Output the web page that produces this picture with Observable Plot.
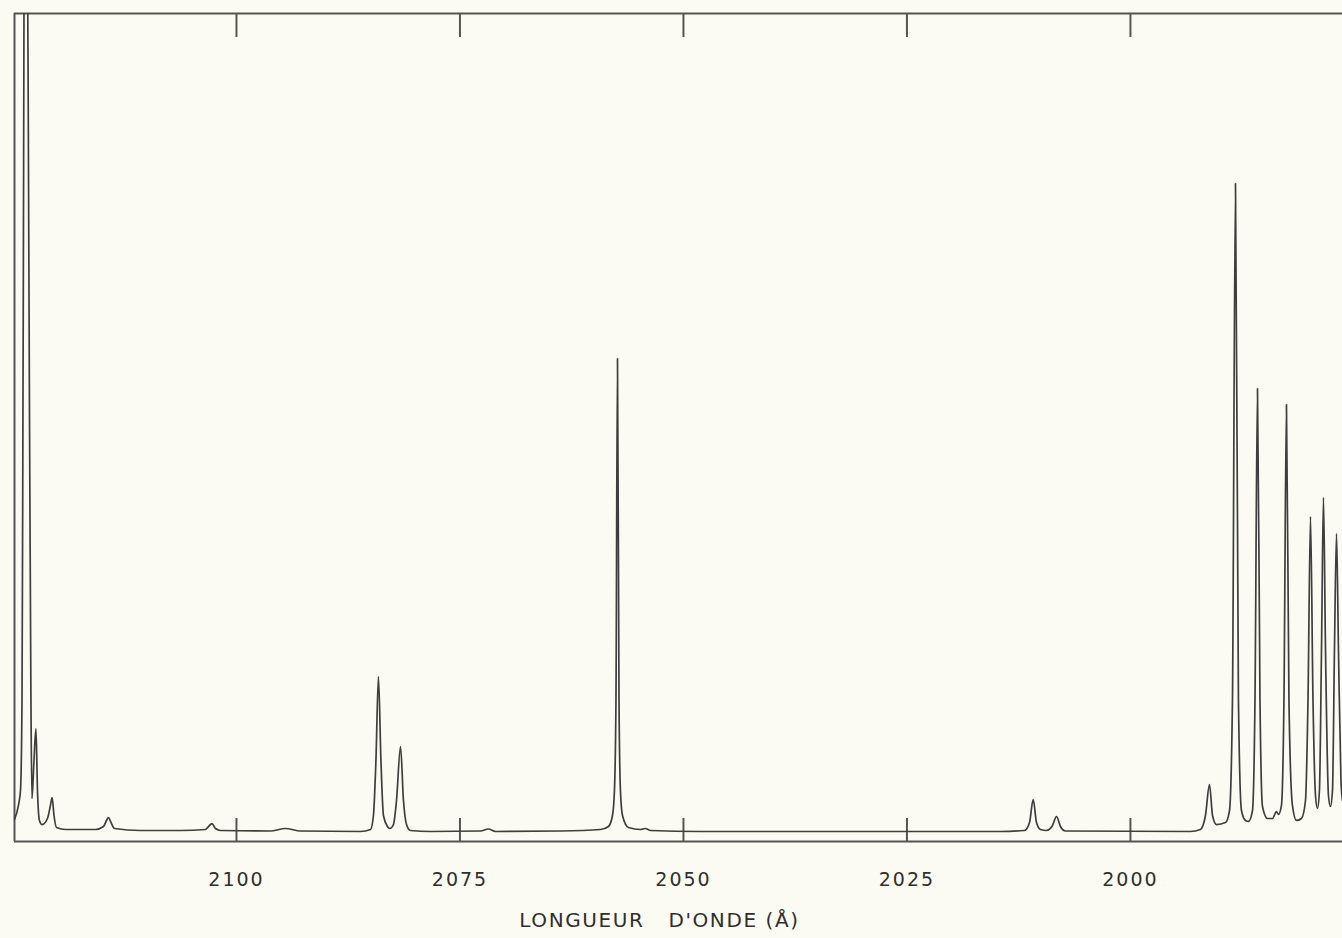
<!DOCTYPE html>
<html>
<head>
<meta charset="utf-8">
<script src="https://cdn.jsdelivr.net/npm/d3@7"></script>
<script src="https://cdn.jsdelivr.net/npm/@observablehq/plot@0.6"></script>
<style>
  html, body { margin: 0; padding: 0; background: #fbfbf3; }
  #chart { width: 1342px; height: 938px; overflow: hidden; }
</style>
</head>
<body>
<div id="chart"></div>
<script>
// Wavelength (Å), decreasing left to right
const wavelength = [
  2124.83, 2124.39, 2124.16, 2123.99, 2123.88, 2123.60, 2123.16, 2122.99, 2122.88, 2122.65,
  2122.43, 2122.26, 2122.04, 2121.76, 2121.14, 2120.81, 2120.62, 2120.41, 2120.13, 2119.13,
  2115.77, 2114.88, 2114.54, 2114.32, 2114.09, 2113.65, 2110.74, 2106.26, 2103.47, 2103.13,
  2102.74, 2102.35, 2101.79, 2096.20, 2094.52, 2092.84, 2086.13, 2085.01, 2084.68, 2084.40,
  2084.12, 2083.84, 2083.56, 2083.11, 2082.83, 2082.44, 2082.10, 2081.65, 2081.32, 2080.98,
  2080.54, 2078.30, 2072.71, 2071.81, 2071.03, 2063.76, 2059.28, 2058.39, 2057.94, 2057.72,
  2057.55, 2057.38, 2057.21, 2057.05, 2056.82, 2056.15, 2054.81, 2054.25, 2053.69, 2048.10,
  2014.54, 2011.85, 2011.29, 2010.88, 2010.51, 2010.06, 2009.39, 2008.72, 2008.27, 2007.83,
  2007.27, 1993.29, 1992.17, 1991.61, 1991.16, 1990.82, 1990.38, 1989.37, 1988.92, 1988.59,
  1988.25, 1987.92, 1987.58, 1987.13, 1986.80, 1986.35, 1986.07, 1985.79, 1985.51, 1985.23,
  1984.67, 1984.11, 1983.67, 1983.44, 1983.11, 1982.83, 1982.55, 1982.27, 1981.88, 1981.43,
  1980.87, 1980.42, 1980.14, 1979.86, 1979.58, 1979.30, 1979.08, 1978.86, 1978.63, 1978.41,
  1978.18, 1977.85, 1977.63, 1977.40, 1977.18, 1976.95, 1976.73, 1976.45, 1976.28
];
// Relative intensity (0–100 = frame height; first line is off-scale)
const intensity = [
  2.66, 4.35, 6.16, 17.03, 53.26, 150, 53.26, 17.03, 5.19, 9.78,
  13.65, 6.16, 2.54, 2.05, 2.78, 4.35, 5.31, 3.14, 1.69, 1.45,
  1.45, 1.81, 2.54, 2.90, 2.42, 1.57, 1.33, 1.33, 1.45, 1.81,
  2.17, 1.57, 1.33, 1.27, 1.57, 1.27, 1.21, 1.45, 3.14, 9.78,
  19.93, 9.78, 3.14, 1.81, 1.57, 2.05, 4.95, 11.47, 4.95, 2.05,
  1.33, 1.21, 1.27, 1.51, 1.21, 1.27, 1.45, 1.81, 3.14, 6.16,
  17.03, 58.33, 17.03, 6.16, 3.14, 1.69, 1.45, 1.57, 1.33, 1.21,
  1.21, 1.33, 2.29, 5.07, 2.29, 1.45, 1.33, 1.93, 3.02, 1.81,
  1.27, 1.21, 1.45, 3.14, 6.88, 3.14, 2.05, 2.29, 3.74, 17.03,
  79.47, 17.03, 3.74, 2.54, 2.42, 3.74, 17.03, 54.71, 17.03, 4.23,
  2.78, 2.78, 3.62, 3.26, 4.35, 17.03, 52.78, 17.03, 4.35, 2.54,
  2.78, 4.95, 17.03, 39.25, 17.03, 5.56, 3.99, 6.16, 23.07, 41.55,
  23.07, 5.56, 4.23, 6.16, 23.07, 37.20, 23.07, 7.37, 4.95
];
const xTicks = [2100, 2075, 2050, 2025, 2000];
const xLabel = "LONGUEUR\u00a0\u00a0\u00a0D'ONDE\u00a0(Å)";

const spectrum = wavelength.map((w, i) => ({w, v: intensity[i]}));
const ink = "#2f2f2f";
const lineInk = "#3e3e3e";
const frameInk = "#555555";

const plot = Plot.plot({
  width: 1342,
  height: 938,
  marginLeft: 14,
  marginRight: 0,
  marginTop: 13,
  marginBottom: 97,
  style: {background: "transparent", fontFamily: "'DejaVu Sans', sans-serif", color: ink, overflow: "visible"},
  x: {domain: [d3.max(wavelength), d3.min(wavelength)], axis: null},
  y: {domain: [0, 100], axis: null},
  marks: [
    // frame (left, top, bottom; right edge lies beyond the picture)
    Plot.ruleY([0, 100], {stroke: frameInk, strokeWidth: 2}),
    Plot.ruleX([d3.max(wavelength)], {stroke: frameInk, strokeWidth: 2}),
    // inward ticks, top and bottom
    Plot.ruleX(xTicks, {stroke: frameInk, strokeWidth: 2, insetBottom: 804}),
    Plot.ruleX(xTicks, {stroke: frameInk, strokeWidth: 2, insetTop: 805}),
    // spectrum
    Plot.line(spectrum, {x: "w", y: "v", stroke: lineInk, strokeWidth: 1.7, curve: "monotone-x", clip: true}),
    // tick labels
    Plot.text(xTicks, {x: d => d, frameAnchor: "bottom", dy: 44, fontSize: 19, fill: ink, text: d => String(d)}),
    // axis label
    Plot.text([xLabel], {frameAnchor: "bottom", dx: -19, dy: 85, fontSize: 20, fill: ink})
  ]
});

const groups = d3.select(plot).selectAll("g[aria-label='text']").nodes();
if (groups[0]) d3.select(groups[0]).selectAll("text").style("letter-spacing", "2px");
if (groups[1]) d3.select(groups[1]).selectAll("text").style("letter-spacing", "1.6px");

document.getElementById("chart").append(plot);
</script>
</body>
</html>
